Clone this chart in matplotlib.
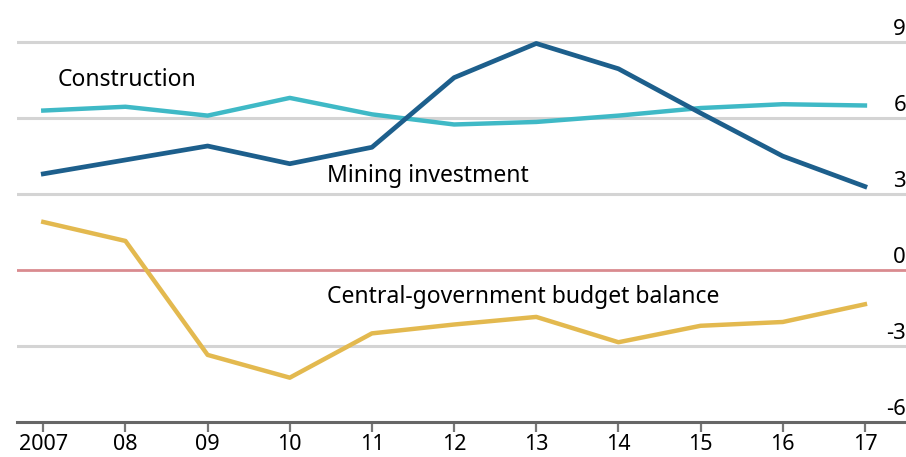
import matplotlib
matplotlib.use("Agg")
import matplotlib.pyplot as plt
import matplotlib.transforms as mtransforms

# data
years = [2007, 2008, 2009, 2010, 2011, 2012, 2013, 2014, 2015, 2016, 2017]
year_labels = ["2007", "08", "09", "10", "11", "12", "13", "14", "15", "16", "17"]
construction = [6.3, 6.45, 6.1, 6.8, 6.15, 5.75, 5.85, 6.1, 6.4, 6.55, 6.5]
mining = [3.8, 4.35, 4.9, 4.2, 4.85, 7.6, 8.95, 7.95, 6.2, 4.5, 3.3]
budget = [1.9, 1.15, -3.35, -4.25, -2.5, -2.15, -1.85, -2.85, -2.2, -2.05, -1.35]
y_ticks = [9, 6, 3, 0, -3, -6]

fig = plt.figure(figsize=(9.06, 4.57), dpi=100)
ax = fig.add_axes([17 / 906, 35 / 457, 889 / 906, 395 / 457])

ax.set_xlim(2006.68, 2017.5)
ax.set_ylim(-6, 9.6)

# grid lines
for v in y_ticks:
    if v == 0:
        ax.axhline(v, color="#d98b8f", lw=2, zorder=1)
    elif v != -6:
        ax.axhline(v, color="#d4d4d4", lw=2.2, zorder=1)

ax.plot(years, construction, color="#3fb9c6", lw=3.2, zorder=3)
ax.plot(years, mining, color="#1d5f8c", lw=3.4, zorder=4)
ax.plot(years, budget, color="#e3b94f", lw=3.2, zorder=3)

for s in ["top", "right", "left"]:
    ax.spines[s].set_visible(False)
ax.spines["bottom"].set_color("#666666")
ax.spines["bottom"].set_linewidth(2.2)

tick_font = ["Liberation Sans Narrow", "Noto Sans", "DejaVu Sans"]
ax.set_yticks([])
ax.set_xticks(years)
ax.set_xticklabels(year_labels, family=tick_font, fontsize=15.5)
ax.tick_params(axis="x", length=7, width=1.6, color="#777777", pad=2)

# right-hand value labels sitting on the gridlines
trans = mtransforms.blended_transform_factory(ax.transAxes, ax.transData)
for v in y_ticks:
    ax.text(1.0, v + 0.08, str(v), transform=trans, ha="right", va="bottom",
            family=tick_font, fontsize=16)

lab = dict(family="Noto Sans", fontsize=16.5, va="center", ha="left")
ax.text(2007.17, 7.5, "Construction", **lab)
ax.text(2010.45, 3.7, "Mining investment", **lab)
ax.text(2010.45, -1.05, "Central-government budget balance", **lab)

fig.savefig("out.png", dpi=100)
